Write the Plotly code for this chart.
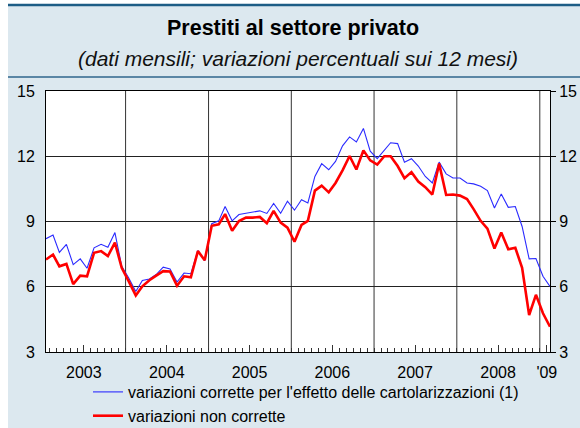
import plotly.graph_objects as go

# ---------------- data ----------------
start_year = 2003
n_months = 74  # Jan 2003 .. Feb 2009
months = [f"{start_year + (i // 12)}-{(i % 12) + 1:02d}-15" for i in range(n_months)]

corrette = [
    8.21, 8.38, 7.58, 7.95, 7.02, 7.28, 6.85, 7.79, 7.95, 7.82, 8.49, 6.94,
    6.40, 5.78, 6.29, 6.36, 6.56, 6.90, 6.82, 6.22, 6.63, 6.60, 7.67, 7.20,
    8.90, 9.03, 9.69, 9.03, 9.32, 9.37, 9.44, 9.49, 9.37, 9.83, 9.38, 9.93,
    9.52, 10.00, 9.85, 11.07, 11.66, 11.38, 11.76, 12.48, 12.89, 12.66, 13.28, 12.23,
    11.89, 12.27, 12.62, 12.58, 11.73, 11.89, 11.55, 11.07, 10.77, 11.73, 11.19, 11.00,
    11.00, 10.77, 10.73, 10.62, 10.42, 9.62, 10.27, 9.65, 9.69, 8.77, 7.28, 7.30,
    6.48, 6.01,
]
non_corrette = [
    7.25, 7.48, 6.94, 7.05, 6.12, 6.51, 6.48, 7.56, 7.64, 7.41, 8.03, 6.87,
    6.25, 5.60, 6.02, 6.30, 6.51, 6.72, 6.70, 6.05, 6.48, 6.43, 7.64, 7.22,
    8.80, 8.87, 9.34, 8.57, 9.02, 9.18, 9.18, 9.21, 8.92, 9.49, 8.95, 8.72,
    8.07, 8.84, 9.03, 10.42, 10.65, 10.34, 10.77, 11.35, 12.01, 11.39, 12.27, 11.81,
    11.62, 12.00, 12.00, 11.55, 10.99, 11.27, 10.84, 10.58, 10.24, 11.66, 10.22, 10.24,
    10.19, 10.03, 9.57, 9.03, 8.67, 7.76, 8.49, 7.72, 7.79, 6.87, 4.70, 5.63,
    4.78, 4.16,
]

year_label_pos = ["2003-07-01", "2004-07-01", "2005-07-01", "2006-07-01",
                  "2007-07-01", "2008-07-01", "2009-02-01"]
year_labels = ["2003", "2004", "2005", "2006", "2007", "2008", "'09"]
year_starts = ["2004-01-01", "2005-01-01", "2006-01-01", "2007-01-01",
               "2008-01-01", "2009-01-01"]
y_ticks = [3, 6, 9, 12, 15]

name_blue = "variazioni corrette per l'effetto delle cartolarizzazioni (1)"
name_red = "variazioni non corrette"

# ---------------- figure ----------------
W, H = 580, 428
ML, MR, MT, MB = 46, 30, 91, 76
PW, PH = W - ML - MR, H - MT - MB


def px_x(p):
    return (p - ML) / PW


def px_y(p):
    return 1 - (p - MT) / PH


BG = "#dce8ef"
FONT = "Liberation Sans, Arial, sans-serif"

fig = go.Figure()
fig.add_trace(go.Scatter(x=months, y=corrette, mode="lines", name=name_blue,
                         line=dict(color="#2a2aff", width=1.1)))
fig.add_trace(go.Scatter(x=months, y=non_corrette, mode="lines", name=name_red,
                         line=dict(color="#ff0000", width=2.6)))
fig.add_trace(go.Scatter(x=[None], y=[None], yaxis="y2", showlegend=False,
                         hoverinfo="skip"))

shapes = []
for ys in year_starts:
    shapes.append(dict(type="line", xref="x", yref="paper", x0=ys, x1=ys, y0=0, y1=1,
                       line=dict(color="#333333", width=1), layer="below"))
# white margins of the page outside the panel
shapes.append(dict(type="rect", xref="paper", yref="paper", x0=px_x(0), x1=px_x(W),
                   y0=px_y(0), y1=px_y(6), fillcolor="white", line=dict(width=0)))
shapes.append(dict(type="rect", xref="paper", yref="paper", x0=px_x(0), x1=px_x(8),
                   y0=px_y(H), y1=px_y(0), fillcolor="white", line=dict(width=0)))
# top dark rule
shapes.append(dict(type="line", xref="paper", yref="paper", x0=px_x(8), x1=px_x(W),
                   y0=px_y(5), y1=px_y(5), line=dict(color="#1d5d86", width=2.5)))
# divider below subtitle
shapes.append(dict(type="line", xref="paper", yref="paper", x0=px_x(8), x1=px_x(W),
                   y0=px_y(77), y1=px_y(77), line=dict(color="#5a86a5", width=2)))

annotations = [
    dict(text="<b>Prestiti al settore privato</b>", xref="paper", yref="paper",
         x=px_x(293), y=px_y(28), xanchor="center", yanchor="middle", showarrow=False,
         font=dict(size=21.5, color="black", family=FONT)),
    dict(text="<i>(dati mensili; variazioni percentuali sui 12 mesi)</i>", xref="paper",
         yref="paper", x=px_x(298), y=px_y(58), xanchor="center", yanchor="middle",
         showarrow=False, font=dict(size=21, color="#111111", family=FONT)),
]

fig.update_layout(
    template="none",
    width=W, height=H, autosize=False,
    margin=dict(l=ML, r=MR, t=MT, b=MB, autoexpand=False),
    paper_bgcolor=BG, plot_bgcolor="white",
    font=dict(family=FONT, size=16, color="black"),
    shapes=shapes, annotations=annotations,
    showlegend=True, hovermode=False,
    legend=dict(x=px_x(88), y=px_y(375), xanchor="left", yanchor="top",
                bgcolor="rgba(0,0,0,0)", borderwidth=0, font=dict(size=16, family=FONT),
                traceorder="normal"),
    xaxis=dict(type="date", range=["2003-01-15", "2009-02-15"], automargin=False,
               tickmode="array", tickvals=year_label_pos, ticktext=year_labels,
               ticks="inside", ticklen=7, tickcolor="#333", showgrid=False,
               showline=True, linecolor="black", linewidth=1, mirror=True,
               ticklabelstandoff=6,
               minor=dict(dtick="M1", tick0="2003-01-01", ticks="inside", ticklen=4,
                          tickcolor="#333", showgrid=False),
               zeroline=False),
    yaxis=dict(range=[3, 15], tickvals=y_ticks, showgrid=True, gridcolor="#222",
               gridwidth=1, ticks="", showline=True, linecolor="black", automargin=False,
               mirror=True, zeroline=False, ticklabelstandoff=7),
    yaxis2=dict(range=[3, 15], tickvals=y_ticks, overlaying="y", side="right",
                showgrid=False, ticks="outside", ticklen=5, tickcolor="black",
                automargin=False, zeroline=False, showline=False, ticklabelstandoff=0),
)

post = ("document.documentElement.style.margin='0';"
        "document.documentElement.style.padding='0';"
        "document.documentElement.style.overflow='hidden';"
        "document.body.style.margin='0';document.body.style.padding='0';"
        "document.body.style.overflow='hidden';window.scrollTo(0,0);")
fig.write_html("out.html", config={"displayModeBar": False}, post_script=post)
